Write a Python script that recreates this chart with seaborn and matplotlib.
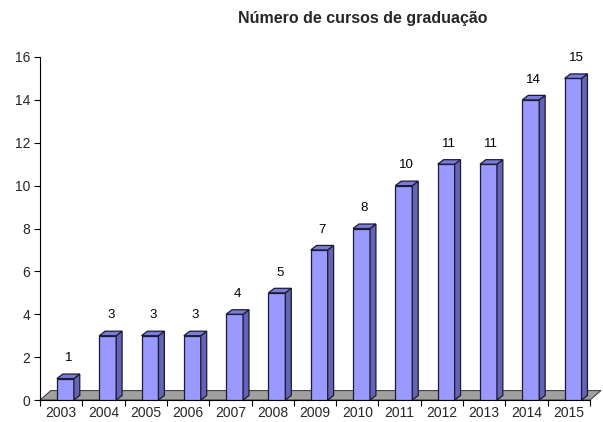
import matplotlib
matplotlib.use("Agg")
import matplotlib.pyplot as plt
from matplotlib.patches import Polygon
import seaborn as sns
import pandas as pd

years = ["2003", "2004", "2005", "2006", "2007", "2008", "2009",
         "2010", "2011", "2012", "2013", "2014", "2015"]
cursos = [1, 3, 3, 3, 4, 5, 7, 8, 10, 11, 11, 14, 15]
yticks = [0, 2, 4, 6, 8, 10, 12, 14, 16]
title = "Número de cursos de graduação"

sns.set_theme(style="white")
plt.rcParams["font.family"] = ["Liberation Sans", "DejaVu Sans"]

df = pd.DataFrame({"ano": years, "cursos": cursos})

fig = plt.figure(figsize=(6.03, 4.22), dpi=100)
ax = fig.add_axes([40 / 603, 22 / 422, 550 / 603, 343 / 422])

front = "#9999FF"
side = "#6464B4"
topc = "#7C7CD8"
edge = "#1a1a33"

sns.barplot(data=df, x="ano", y="cursos", color=front, width=0.4,
            saturation=1, edgecolor=edge, linewidth=0.9, ax=ax, zorder=3)

ax.set_xlim(-0.6, 12.4)
ax.set_ylim(0, 16)

# 3D depth offsets (data units)
dx, dy = 0.14, 0.21

# floor
x0, x1 = ax.get_xlim()
fdx, fdy = 0.26, 0.44
floor = Polygon([(x0, 0), (x1, 0), (x1 + fdx, fdy), (x0 + fdx, fdy)],
                closed=True, facecolor="#A0A0A0", edgecolor="#444444",
                linewidth=0.8, clip_on=False, zorder=1)
ax.add_patch(floor)

for p, v in zip(ax.patches[:len(cursos)], cursos):
    x = p.get_x()
    w = p.get_width()
    h = p.get_height()
    ax.add_patch(Polygon([(x + w, 0), (x + w + dx, dy), (x + w + dx, h + dy), (x + w, h)],
                         closed=True, facecolor=side, edgecolor=edge,
                         linewidth=0.9, zorder=3, clip_on=False))
    ax.add_patch(Polygon([(x, h), (x + w, h), (x + w + dx, h + dy), (x + dx, h + dy)],
                         closed=True, facecolor=topc, edgecolor=edge,
                         linewidth=0.9, zorder=3, clip_on=False))
    ax.annotate(str(v), (x + (w + dx) / 2, h + dy), xytext=(0, 7),
                textcoords="offset points", ha="center", va="bottom",
                fontsize=9.5, color="black", zorder=5)

# axes styling
ax.set_yticks(yticks)
ax.set_yticklabels([str(t) for t in yticks], fontsize=10)
n = len(years)
ax.set_xticks([i - 0.6 for i in range(n + 1)])
ax.set_xticklabels([])
ax.set_xticks([i - 0.1 for i in range(n)], minor=True)
ax.set_xticklabels(years, minor=True, fontsize=10)
ax.tick_params(axis="x", which="major", direction="out", length=4, width=0.8,
               color="black", bottom=True)
ax.tick_params(axis="x", which="minor", length=0, pad=4)
ax.tick_params(axis="y", direction="out", length=4, width=0.8, color="black",
               left=True, pad=3)
for s in ["top", "right"]:
    ax.spines[s].set_visible(False)
for s in ["left", "bottom"]:
    ax.spines[s].set_color("black")
    ax.spines[s].set_linewidth(0.8)
ax.set_xlabel("")
ax.set_ylabel("")

fig.text(363 / 603, 1 - 18 / 422, title, ha="center", va="center",
         fontsize=11.5, fontweight="bold")

fig.savefig("out.png", dpi=100)
